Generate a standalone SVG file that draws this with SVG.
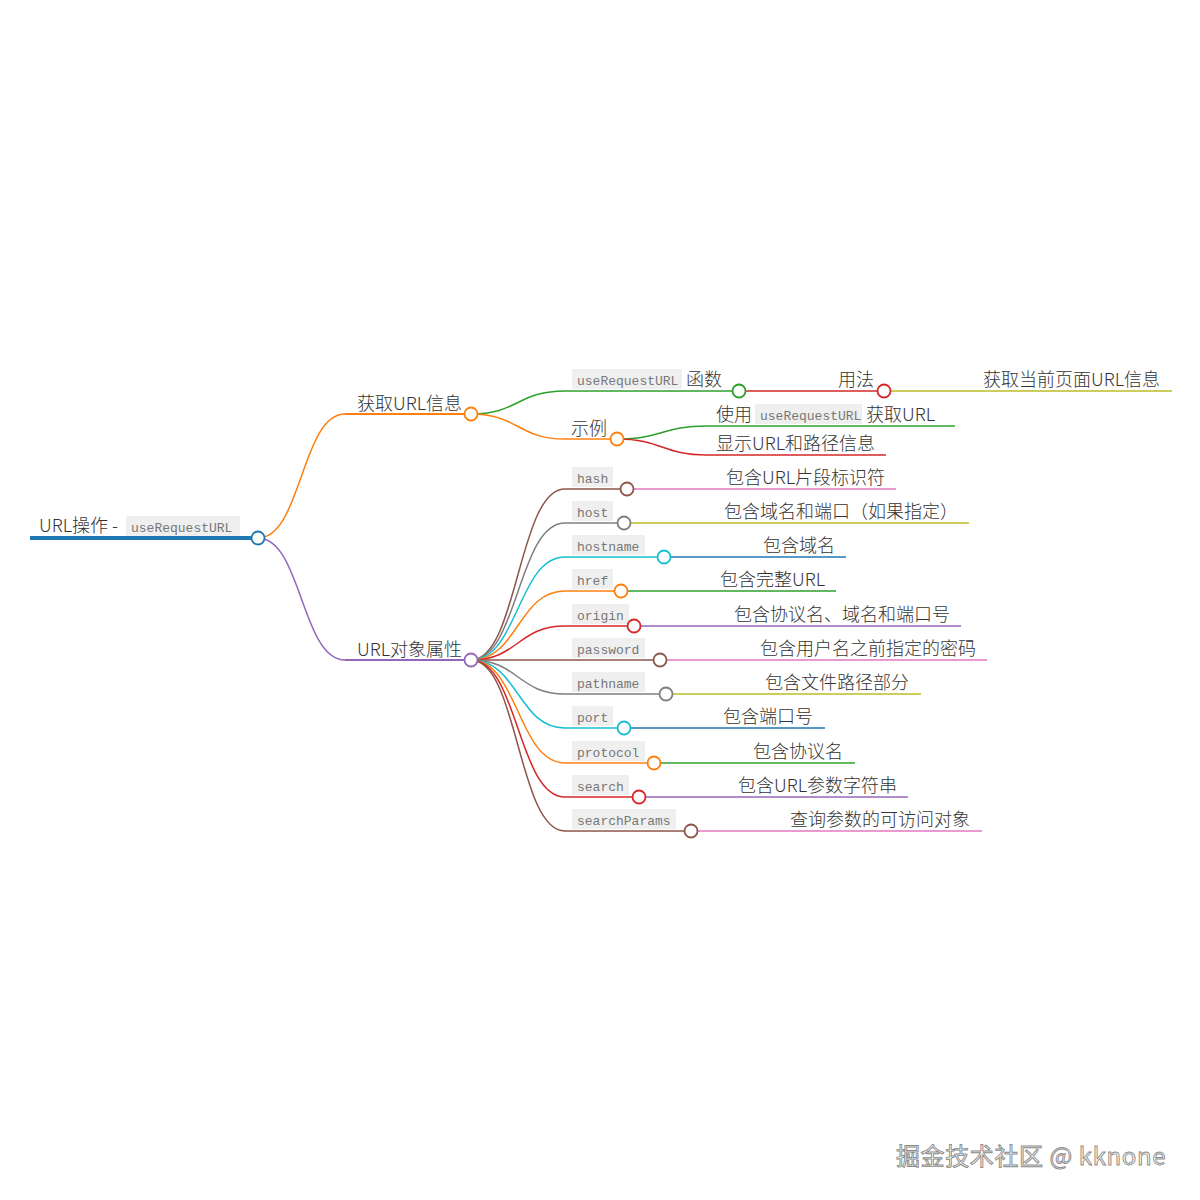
<svg xmlns="http://www.w3.org/2000/svg" width="1200" height="1200" viewBox="0 0 1200 1200">
<style>
.t{font-family:"Noto Sans CJK SC","Liberation Sans",sans-serif;font-size:18px;fill:#333;font-weight:300}
.c{font-family:"Liberation Mono","Courier New",monospace;font-size:13px;fill:#777}
.cb{fill:#efefef}
.l{fill:none;stroke-width:1.5}
.n{fill:#fff;stroke-width:1.8}
.wm{font-family:"Noto Sans CJK SC","Liberation Sans",sans-serif;font-size:24px;letter-spacing:0.6px;fill:#fafafa;stroke:#8a8a8a;stroke-width:0.9}
</style>
<rect width="1200" height="1200" fill="#fff"/>
<g id="connectors">
<path d="M258,538 C301.5,538 301.5,414 345,414" class="l" stroke="#ff7f0e" stroke-width="2"/>
<path d="M258,538 C301.5,538 301.5,660 345,660" class="l" stroke="#9467bd" stroke-width="2"/>
<path d="M471,414 C518,414 518,391 565,391" class="l" stroke="#2ca02c"/>
<path d="M471,414 C518,414 518,439 565,439" class="l" stroke="#ff7f0e"/>
<path d="M739,391 L829,391" class="l" stroke="#d62728"/>
<path d="M884,391 L974,391" class="l" stroke="#bcbd22"/>
<path d="M617,439 C662,439 662,426 707,426" class="l" stroke="#2ca02c"/>
<path d="M617,439 C662,439 662,455 707,455" class="l" stroke="#d62728"/>
<path d="M471,660 C518,660 518,489 565,489" class="l" stroke="#8c564b"/>
<path d="M471,660 C518,660 518,523 565,523" class="l" stroke="#7f7f7f"/>
<path d="M471,660 C518,660 518,557 565,557" class="l" stroke="#17becf"/>
<path d="M471,660 C518,660 518,591 565,591" class="l" stroke="#ff7f0e"/>
<path d="M471,660 C518,660 518,626 565,626" class="l" stroke="#d62728"/>
<path d="M471,660 C518,660 518,660 565,660" class="l" stroke="#8c564b"/>
<path d="M471,660 C518,660 518,694 565,694" class="l" stroke="#7f7f7f"/>
<path d="M471,660 C518,660 518,728 565,728" class="l" stroke="#17becf"/>
<path d="M471,660 C518,660 518,763 565,763" class="l" stroke="#ff7f0e"/>
<path d="M471,660 C518,660 518,797 565,797" class="l" stroke="#d62728"/>
<path d="M471,660 C518,660 518,831 565,831" class="l" stroke="#8c564b"/>
<path d="M627,489 L717,489" class="l" stroke="#e377c2"/>
<path d="M624,523 L714,523" class="l" stroke="#bcbd22"/>
<path d="M664,557 L754,557" class="l" stroke="#1f77b4"/>
<path d="M621,591 L711,591" class="l" stroke="#2ca02c"/>
<path d="M634,626 L724,626" class="l" stroke="#9467bd"/>
<path d="M660,660 L750,660" class="l" stroke="#e377c2"/>
<path d="M666,694 L756,694" class="l" stroke="#bcbd22"/>
<path d="M624,728 L714,728" class="l" stroke="#1f77b4"/>
<path d="M654,763 L744,763" class="l" stroke="#2ca02c"/>
<path d="M639,797 L729,797" class="l" stroke="#9467bd"/>
<path d="M691,831 L781,831" class="l" stroke="#e377c2"/>
</g>
<g id="root">
<line x1="30" y1="538" x2="258" y2="538" stroke="#1f77b4" stroke-width="4"/>
<text x="39" y="532" class="t">URL操作 -</text>
<rect x="126" y="516" width="114" height="20" class="cb"/>
<text x="131" y="532" class="c">useRequestURL</text>
<circle cx="258" cy="538" r="6.5" class="n" stroke="#1f77b4"/>
</g>
<g id="n-get">
<line x1="345" y1="414" x2="471" y2="414" stroke="#ff7f0e" stroke-width="2"/>
<text x="357" y="410" class="t">获取URL信息</text>
<circle cx="471" cy="414" r="6.5" class="n" stroke="#ff7f0e"/>
</g>
<g id="n-func">
<line x1="565" y1="391" x2="739" y2="391" stroke="#2ca02c" stroke-width="1.5"/>
<rect x="572" y="369" width="110" height="20" class="cb"/>
<text x="577" y="385" class="c">useRequestURL</text>
<text x="686" y="386" class="t">函数</text>
<circle cx="739" cy="391" r="6.5" class="n" stroke="#2ca02c"/>
</g>
<g id="n-usage">
<line x1="829" y1="391" x2="884" y2="391" stroke="#d62728" stroke-width="1.5"/>
<text x="838" y="386" class="t">用法</text>
<circle cx="884" cy="391" r="6.5" class="n" stroke="#d62728"/>
</g>
<g id="n-usage-desc">
<line x1="974" y1="391" x2="1172" y2="391" stroke="#bcbd22" stroke-width="1.5"/>
<text x="983" y="386" class="t">获取当前页面URL信息</text>
</g>
<g id="n-example">
<line x1="565" y1="439" x2="617" y2="439" stroke="#ff7f0e" stroke-width="1.5"/>
<text x="571" y="435" class="t">示例</text>
<circle cx="617" cy="439" r="6.5" class="n" stroke="#ff7f0e"/>
</g>
<g id="n-ex1">
<line x1="707" y1="426" x2="955" y2="426" stroke="#2ca02c" stroke-width="1.5"/>
<text x="716" y="421" class="t">使用</text>
<rect x="755" y="404" width="107" height="20" class="cb"/>
<text x="760" y="420" class="c">useRequestURL</text>
<text x="866" y="421" class="t">获取URL</text>
</g>
<g id="n-ex2">
<line x1="707" y1="455" x2="886" y2="455" stroke="#d62728" stroke-width="1.5"/>
<text x="716" y="450" class="t">显示URL和路径信息</text>
</g>
<g id="n-props">
<line x1="345" y1="660" x2="471" y2="660" stroke="#9467bd" stroke-width="2"/>
<text x="357" y="656" class="t">URL对象属性</text>
<circle cx="471" cy="660" r="6.5" class="n" stroke="#9467bd"/>
</g>
<g id="p-hash">
<line x1="565" y1="489" x2="627" y2="489" stroke="#8c564b" stroke-width="1.5"/>
<rect x="572" y="467" width="41" height="20" class="cb"/>
<text x="577" y="483" class="c">hash</text>
<circle cx="627" cy="489" r="6.5" class="n" stroke="#8c564b"/>
</g>
<g id="d-hash">
<line x1="717" y1="489" x2="896" y2="489" stroke="#e377c2" stroke-width="1.5"/>
<text x="726" y="484" class="t">包含URL片段标识符</text>
</g>
<g id="p-host">
<line x1="565" y1="523" x2="624" y2="523" stroke="#7f7f7f" stroke-width="1.5"/>
<rect x="572" y="501" width="41" height="20" class="cb"/>
<text x="577" y="517" class="c">host</text>
<circle cx="624" cy="523" r="6.5" class="n" stroke="#7f7f7f"/>
</g>
<g id="d-host">
<line x1="714" y1="523" x2="969" y2="523" stroke="#bcbd22" stroke-width="1.5"/>
<text x="724" y="518" class="t">包含域名和端口（如果指定）</text>
</g>
<g id="p-hostname">
<line x1="565" y1="557" x2="664" y2="557" stroke="#17becf" stroke-width="1.5"/>
<rect x="572" y="535" width="73" height="20" class="cb"/>
<text x="577" y="551" class="c">hostname</text>
<circle cx="664" cy="557" r="6.5" class="n" stroke="#17becf"/>
</g>
<g id="d-hostname">
<line x1="754" y1="557" x2="846" y2="557" stroke="#1f77b4" stroke-width="1.5"/>
<text x="763" y="552" class="t">包含域名</text>
</g>
<g id="p-href">
<line x1="565" y1="591" x2="621" y2="591" stroke="#ff7f0e" stroke-width="1.5"/>
<rect x="572" y="569" width="41" height="20" class="cb"/>
<text x="577" y="585" class="c">href</text>
<circle cx="621" cy="591" r="6.5" class="n" stroke="#ff7f0e"/>
</g>
<g id="d-href">
<line x1="711" y1="591" x2="836" y2="591" stroke="#2ca02c" stroke-width="1.5"/>
<text x="720" y="586" class="t">包含完整URL</text>
</g>
<g id="p-origin">
<line x1="565" y1="626" x2="634" y2="626" stroke="#d62728" stroke-width="1.5"/>
<rect x="572" y="604" width="57" height="20" class="cb"/>
<text x="577" y="620" class="c">origin</text>
<circle cx="634" cy="626" r="6.5" class="n" stroke="#d62728"/>
</g>
<g id="d-origin">
<line x1="724" y1="626" x2="961" y2="626" stroke="#9467bd" stroke-width="1.5"/>
<text x="734" y="621" class="t">包含协议名、域名和端口号</text>
</g>
<g id="p-password">
<line x1="565" y1="660" x2="660" y2="660" stroke="#8c564b" stroke-width="1.5"/>
<rect x="572" y="638" width="73" height="20" class="cb"/>
<text x="577" y="654" class="c">password</text>
<circle cx="660" cy="660" r="6.5" class="n" stroke="#8c564b"/>
</g>
<g id="d-password">
<line x1="750" y1="660" x2="987" y2="660" stroke="#e377c2" stroke-width="1.5"/>
<text x="760" y="655" class="t">包含用户名之前指定的密码</text>
</g>
<g id="p-pathname">
<line x1="565" y1="694" x2="666" y2="694" stroke="#7f7f7f" stroke-width="1.5"/>
<rect x="572" y="672" width="73" height="20" class="cb"/>
<text x="577" y="688" class="c">pathname</text>
<circle cx="666" cy="694" r="6.5" class="n" stroke="#7f7f7f"/>
</g>
<g id="d-pathname">
<line x1="756" y1="694" x2="921" y2="694" stroke="#bcbd22" stroke-width="1.5"/>
<text x="765" y="689" class="t">包含文件路径部分</text>
</g>
<g id="p-port">
<line x1="565" y1="728" x2="624" y2="728" stroke="#17becf" stroke-width="1.5"/>
<rect x="572" y="706" width="41" height="20" class="cb"/>
<text x="577" y="722" class="c">port</text>
<circle cx="624" cy="728" r="6.5" class="n" stroke="#17becf"/>
</g>
<g id="d-port">
<line x1="714" y1="728" x2="825" y2="728" stroke="#1f77b4" stroke-width="1.5"/>
<text x="723" y="723" class="t">包含端口号</text>
</g>
<g id="p-protocol">
<line x1="565" y1="763" x2="654" y2="763" stroke="#ff7f0e" stroke-width="1.5"/>
<rect x="572" y="741" width="73" height="20" class="cb"/>
<text x="577" y="757" class="c">protocol</text>
<circle cx="654" cy="763" r="6.5" class="n" stroke="#ff7f0e"/>
</g>
<g id="d-protocol">
<line x1="744" y1="763" x2="855" y2="763" stroke="#2ca02c" stroke-width="1.5"/>
<text x="753" y="758" class="t">包含协议名</text>
</g>
<g id="p-search">
<line x1="565" y1="797" x2="639" y2="797" stroke="#d62728" stroke-width="1.5"/>
<rect x="572" y="775" width="57" height="20" class="cb"/>
<text x="577" y="791" class="c">search</text>
<circle cx="639" cy="797" r="6.5" class="n" stroke="#d62728"/>
</g>
<g id="d-search">
<line x1="729" y1="797" x2="908" y2="797" stroke="#9467bd" stroke-width="1.5"/>
<text x="738" y="792" class="t">包含URL参数字符串</text>
</g>
<g id="p-searchParams">
<line x1="565" y1="831" x2="691" y2="831" stroke="#8c564b" stroke-width="1.5"/>
<rect x="572" y="809" width="104" height="20" class="cb"/>
<text x="577" y="825" class="c">searchParams</text>
<circle cx="691" cy="831" r="6.5" class="n" stroke="#8c564b"/>
</g>
<g id="d-searchParams">
<line x1="781" y1="831" x2="982" y2="831" stroke="#e377c2" stroke-width="1.5"/>
<text x="790" y="826" class="t">查询参数的可访问对象</text>
</g>
<text x="896" y="1165" class="wm">掘金技术社区 @ kknone</text>
</svg>
